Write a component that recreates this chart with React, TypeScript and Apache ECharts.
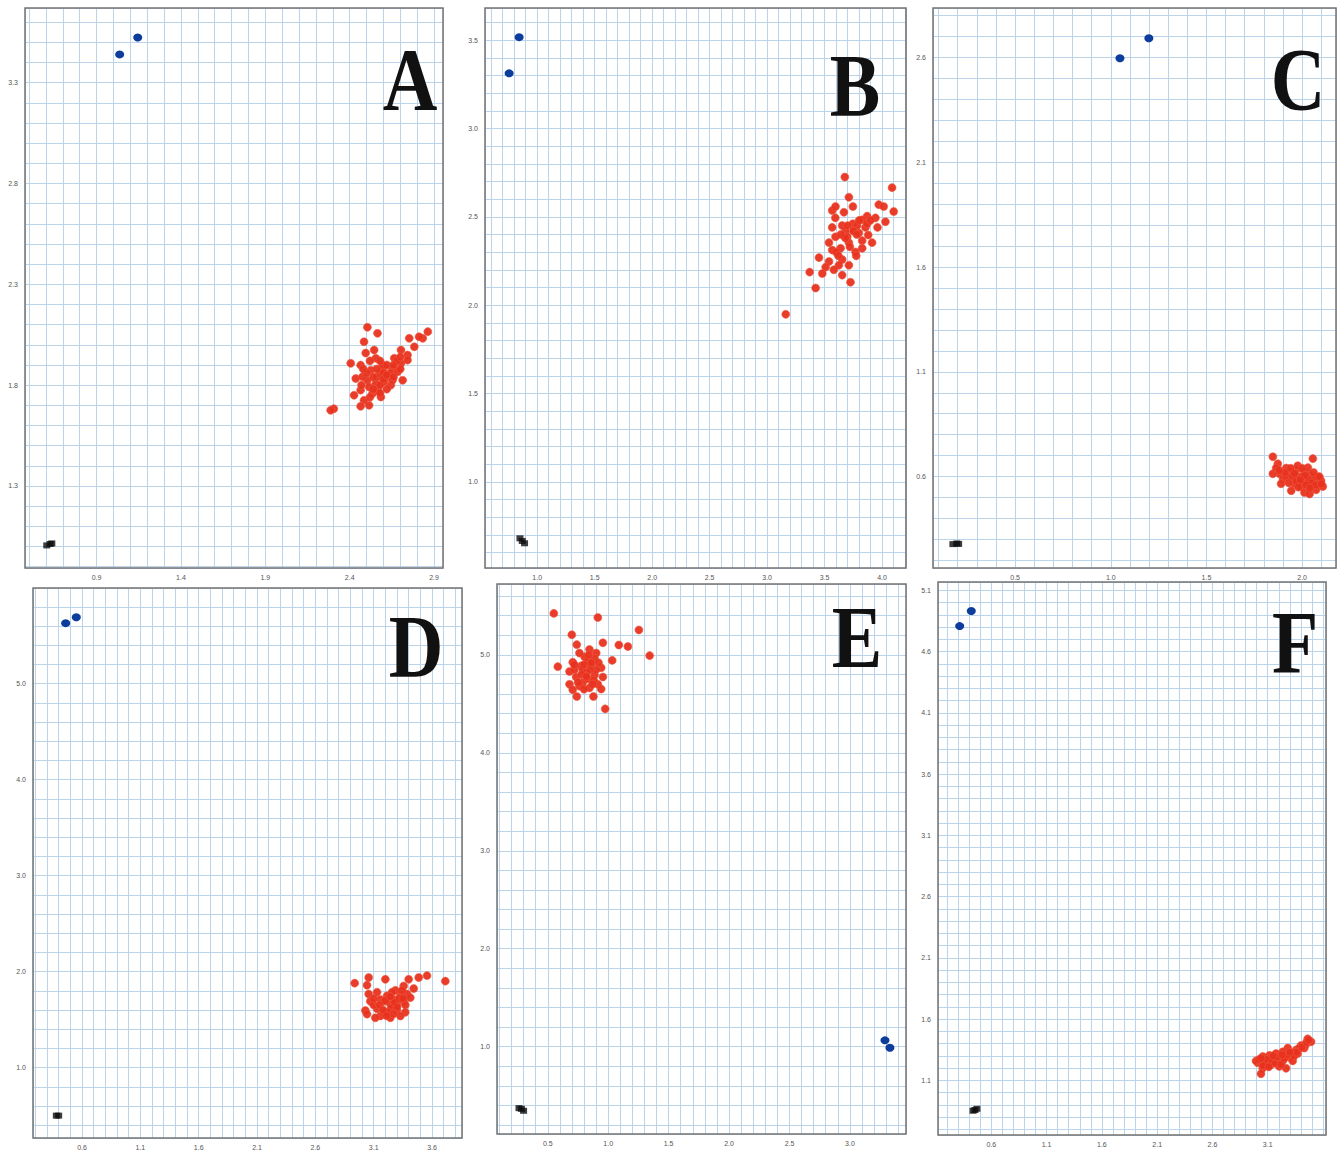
import React, { useEffect, useRef } from "react";
import * as echarts from "echarts";

// ---------- data ----------
const panelNames = ["A", "B", "C", "D", "E", "F"];

const aRed = [[2.505,2.087],[2.565,2.057],[2.863,2.065],[2.833,2.032],[2.753,2.032],[2.485,2.015],[2.495,1.959],[2.704,1.974],[2.743,1.949],[2.664,1.933],[2.555,1.933],[2.406,1.908],[2.465,1.899],[2.604,1.891],[2.654,1.883],[2.704,1.908],[2.743,1.924],[2.525,1.874],[2.585,1.866],[2.624,1.841],[2.436,1.833],[2.505,1.824],[2.555,1.808],[2.644,1.800],[2.465,1.775],[2.426,1.750],[2.535,1.758],[2.585,1.741],[2.485,1.725],[2.515,1.700],[2.465,1.695],[2.306,1.683],[2.287,1.675],[2.565,1.775],[2.604,1.816],[2.684,1.866],[2.565,1.841],[2.515,1.791],[2.476,1.841],[2.783,1.990],[2.714,1.824],[2.654,1.824],[2.595,1.899],[2.545,1.974],[2.811,2.040],[2.60,1.86],[2.62,1.90],[2.68,1.92],[2.64,1.86],[2.58,1.80],[2.54,1.84],[2.70,1.94],[2.47,1.80],[2.52,1.92],[2.62,1.78],[2.56,1.88],[2.60,1.83],[2.66,1.90],[2.50,1.86],[2.58,1.92],[2.62,1.85],[2.54,1.78],[2.52,1.74],[2.70,1.88],[2.48,1.88],[2.58,1.76],[2.66,1.84]];
const aBlue = [[1.037,3.44],[1.144,3.524]];
const aBlack = [[0.605,1.005],[0.625,1.012],[0.635,1.015]];

const bRed = [[3.676,2.725],[4.087,2.665],[3.711,2.611],[3.746,2.558],[3.566,2.536],[3.668,2.526],[3.971,2.569],[4.014,2.558],[4.101,2.530],[3.870,2.504],[3.942,2.494],[3.827,2.483],[4.029,2.472],[3.566,2.440],[3.746,2.461],[3.682,2.419],[3.798,2.408],[3.595,2.387],[3.879,2.397],[3.711,2.354],[3.827,2.365],[3.913,2.354],[3.639,2.322],[3.566,2.312],[3.769,2.301],[3.451,2.269],[3.653,2.258],[3.538,2.247],[3.775,2.279],[3.509,2.215],[3.624,2.226],[3.370,2.187],[3.480,2.179],[3.653,2.170],[3.725,2.130],[3.422,2.097],[3.162,1.948],[3.855,2.440],[3.783,2.451],[3.960,2.440],[3.593,2.494],[3.827,2.322],[3.697,2.387],[3.595,2.558],[3.653,2.451],[3.754,2.419],[3.711,2.226],[3.538,2.354],[3.870,2.461],[3.70,2.45],[3.75,2.42],[3.68,2.38],[3.80,2.48],[3.64,2.40],[3.72,2.33],[3.60,2.30],[3.78,2.40],[3.62,2.28],[3.58,2.20],[3.90,2.48]];
const bBlue = [[0.756,3.312],[0.843,3.517]];
const bBlack = [[0.85,0.68],[0.87,0.665],[0.89,0.652]];

const cRed = [[1.847,0.695],[2.056,0.686],[1.873,0.661],[1.917,0.641],[1.969,0.632],[2.012,0.623],[1.882,0.614],[1.847,0.614],[1.943,0.602],[2.039,0.609],[2.082,0.598],[1.987,0.598],[1.900,0.589],[2.021,0.580],[2.091,0.571],[1.960,0.566],[2.047,0.557],[1.995,0.553],[1.943,0.533],[2.012,0.524],[2.073,0.537],[2.099,0.580],[1.890,0.566],[1.917,0.602],[1.977,0.652],[2.030,0.643],[1.864,0.641],[1.987,0.571],[2.056,0.589],[1.951,0.623],[2.108,0.553],[2.039,0.517],[1.95,0.60],[1.97,0.58],[2.00,0.60],[2.03,0.59],[2.05,0.57],[2.07,0.56],[2.02,0.56],[1.98,0.55],[1.93,0.57],[1.91,0.62],[1.94,0.64],[2.00,0.64],[2.06,0.62],[2.09,0.60],[1.88,0.63],[1.96,0.615],[2.015,0.605],[2.04,0.545],[2.10,0.565],[1.99,0.585]];
const cBlue = [[1.048,2.596],[1.199,2.692]];
const cBlack = [[0.175,0.278],[0.195,0.281],[0.205,0.279]];

const dRed = [[3.057,1.939],[3.200,1.920],[3.400,1.920],[3.486,1.939],[3.557,1.958],[3.714,1.901],[2.937,1.880],[3.043,1.859],[3.357,1.851],[3.443,1.824],[3.286,1.805],[3.129,1.786],[3.057,1.767],[3.214,1.748],[3.329,1.748],[3.386,1.767],[3.157,1.710],[3.271,1.710],[3.071,1.691],[3.357,1.691],[3.243,1.660],[3.029,1.595],[3.129,1.614],[3.200,1.576],[3.300,1.595],[3.371,1.576],[3.157,1.538],[3.243,1.519],[3.329,1.538],[3.100,1.653],[3.300,1.653],[3.414,1.729],[3.257,1.786],[3.343,1.805],[3.186,1.691],[3.114,1.519],[3.043,1.557],[3.371,1.653],[3.15,1.65],[3.20,1.70],[3.25,1.62],[3.28,1.68],[3.32,1.72],[3.22,1.58],[3.18,1.60],[3.30,1.63],[3.35,1.72],[3.24,1.74],[3.10,1.72],[3.27,1.56],[3.21,1.54]];
const dBlue = [[0.46,5.63],[0.551,5.691]];
const dBlack = [[0.38,0.50],[0.40,0.50]];

const eRed = [[0.550,5.424],[0.914,5.382],[1.254,5.255],[0.699,5.206],[0.740,5.105],[0.956,5.124],[1.088,5.101],[1.163,5.086],[1.343,4.993],[0.845,5.056],[0.901,5.019],[0.804,4.981],[1.033,4.944],[0.583,4.880],[0.707,4.925],[0.776,4.888],[0.859,4.899],[0.942,4.869],[0.680,4.831],[0.818,4.813],[0.735,4.775],[0.887,4.794],[0.956,4.775],[0.680,4.700],[0.790,4.719],[0.914,4.700],[0.707,4.644],[0.845,4.663],[0.942,4.651],[0.740,4.576],[0.878,4.576],[0.975,4.449],[0.762,5.019],[0.831,4.944],[0.887,4.963],[0.790,4.850],[0.721,4.850],[0.901,4.850],[0.831,4.756],[0.762,4.681],[0.80,4.90],[0.85,4.85],[0.78,4.80],[0.86,4.92],[0.82,4.78],[0.75,4.72],[0.88,4.74],[0.84,5.00],[0.72,4.90],[0.92,4.92],[0.80,4.65],[0.87,4.70]];
const eBlue = [[3.290,1.064],[3.331,0.989]];
const eBlack = [[0.262,0.372],[0.282,0.365],[0.30,0.345]];

const fRed = [[3.461,1.439],[3.492,1.415],[3.401,1.385],[3.356,1.349],[3.431,1.364],[3.281,1.364],[3.236,1.334],[3.311,1.313],[3.175,1.319],[3.115,1.304],[3.055,1.295],[3.009,1.244],[3.084,1.259],[3.160,1.274],[3.236,1.259],[3.266,1.199],[3.205,1.214],[3.130,1.229],[3.055,1.199],[3.039,1.154],[3.296,1.289],[3.371,1.319],[3.190,1.259],[3.100,1.229],[3.326,1.259],[2.994,1.259],[3.386,1.364],[3.446,1.394],[3.205,1.289],[3.130,1.289],[3.02,1.27],[3.07,1.24],[3.09,1.27],[3.14,1.25],[3.17,1.24],[3.22,1.23],[3.25,1.28],[3.28,1.31],[3.34,1.30],[3.36,1.33],[3.41,1.37],[3.45,1.41],[3.47,1.43],[3.06,1.22],[3.11,1.21],[3.18,1.29],[3.30,1.33],[3.23,1.31],[3.15,1.30],[3.04,1.28]];
const fBlue = [[0.314,4.809],[0.419,4.932]];
const fBlack = [[0.435,0.852],[0.452,0.858],[0.47,0.868]];

// axis ranges [min, max]
const xRanges = [[0.476,2.953],[0.546,4.208],[0.071,2.177],[0.18,3.857],[0.08,3.464],[0.118,3.627]];
const yRanges = [[0.893,3.670],[0.512,3.682],[0.164,2.836],[0.267,5.996],[0.108,5.724],[0.654,5.169]];
// grid line step per axis
const xSteps = [0.1,0.1,0.1,0.1,0.1,0.1];
const ySteps = [0.1,0.1,0.1,0.2,0.2,0.1];
// tick labels
const xTickLabels = [
  [0.9,1.4,1.9,2.4,2.9],
  [1.0,1.5,2.0,2.5,3.0,3.5,4.0],
  [0.5,1.0,1.5,2.0],
  [0.6,1.1,1.6,2.1,2.6,3.1,3.6],
  [0.5,1.0,1.5,2.0,2.5,3.0],
  [0.6,1.1,1.6,2.1,2.6,3.1],
];
const yTickLabels = [
  [1.3,1.8,2.3,2.8,3.3],
  [1.0,1.5,2.0,2.5,3.0,3.5],
  [0.6,1.1,1.6,2.1,2.6],
  [1.0,2.0,3.0,4.0,5.0],
  [1.0,2.0,3.0,4.0,5.0],
  [1.1,1.6,2.1,2.6,3.1,3.6,4.1,4.6,5.1],
];

const redSets = [aRed, bRed, cRed, dRed, eRed, fRed];
const blueSets = [aBlue, bBlue, cBlue, dBlue, eBlue, fBlue];
const blackSets = [aBlack, bBlack, cBlack, dBlack, eBlack, fBlack];

// ---------- layout ----------
const boxes = [
  [25, 8, 418, 560],
  [485, 8, 421, 560],
  [933, 8, 403, 560],
  [33, 588, 429, 550],
  [497, 584, 409, 550],
  [938, 582, 388, 553],
];
const letterPos = [
  [410, 80],
  [855, 86],
  [1298, 80],
  [416, 647],
  [857, 638],
  [1295, 643],
];

const labelFormatter = (labels: number[]) => (v: number) => {
  const hit = labels.find((l) => Math.abs(l - v) < 1e-6);
  return hit === undefined ? "" : hit.toFixed(1);
};

export default function App() {
  const ref = useRef<HTMLDivElement>(null);
  useEffect(() => {
    document.body.style.margin = "0";
    if (!ref.current) return;
    const chart = echarts.init(ref.current, undefined, { renderer: "svg" });

    const grids: any[] = [];
    const xAxes: any[] = [];
    const yAxes: any[] = [];
    const series: any[] = [];
    const graphics: any[] = [];

    panelNames.forEach((name, i) => {
      const [l, t, w, h] = boxes[i];
      grids.push({ left: l, top: t, width: w, height: h, show: true, backgroundColor: "#ffffff", borderWidth: 0 });
      const common = {
        gridIndex: i,
        type: "value",
        axisLine: { show: false },
        axisTick: { show: false },
        splitLine: { show: true, lineStyle: { color: "#bcd4ea", width: 1 } },
      };
      xAxes.push({
        ...common,
        min: xRanges[i][0],
        max: xRanges[i][1],
        minInterval: xSteps[i],
        maxInterval: xSteps[i],
        splitNumber: 60,
        axisLabel: {
          formatter: labelFormatter(xTickLabels[i]),
          fontSize: 7,
          color: "#555",
          fontFamily: "Liberation Sans",
          margin: 6,
          showMinLabel: true,
          showMaxLabel: true,
        },
      });
      yAxes.push({
        ...common,
        min: yRanges[i][0],
        max: yRanges[i][1],
        minInterval: ySteps[i],
        maxInterval: ySteps[i],
        splitNumber: 60,
        axisLabel: {
          formatter: labelFormatter(yTickLabels[i]),
          fontSize: 7,
          color: "#555",
          fontFamily: "Liberation Sans",
          margin: 7,
          showMinLabel: true,
          showMaxLabel: true,
        },
      });
      series.push({
        type: "scatter",
        name: name + "-red",
        xAxisIndex: i,
        yAxisIndex: i,
        data: redSets[i],
        symbol: "circle",
        symbolSize: 8,
        itemStyle: { color: "#e8321f", borderColor: "#ee5a40", borderWidth: 0.6, opacity: 0.95 },
        z: 3,
      });
      series.push({
        type: "scatter",
        name: name + "-blue",
        xAxisIndex: i,
        yAxisIndex: i,
        data: blueSets[i],
        symbol: "circle",
        symbolSize: [9, 8],
        itemStyle: { color: "#0c3c9c", opacity: 1 },
        z: 3,
      });
      series.push({
        type: "scatter",
        name: name + "-black",
        xAxisIndex: i,
        yAxisIndex: i,
        data: blackSets[i],
        symbol: "rect",
        symbolSize: [7, 6],
        itemStyle: { color: "#0d0d0d" },
        z: 3,
      });
      graphics.push({
        type: "rect",
        shape: { x: l, y: t, width: w, height: h },
        style: { fill: "none", stroke: "#737373", lineWidth: 1.5 },
        z: 50,
        silent: true,
      });
      graphics.push({
        type: "text",
        x: letterPos[i][0],
        y: letterPos[i][1],
        scaleX: 0.86,
        z: 60,
        style: {
          text: name,
          fontFamily: "Liberation Serif",
          fontWeight: "bold",
          fontSize: 88,
          fill: "#111111",
          textAlign: "center",
          textVerticalAlign: "middle",
        },
      });
    });

    chart.setOption({
      animation: false,
      backgroundColor: "#ffffff",
      grid: grids,
      xAxis: xAxes,
      yAxis: yAxes,
      series,
      graphic: graphics,
    });
    return () => chart.dispose();
  }, []);
  return <div ref={ref} style={{ width: 1339, height: 1155 }} />;
}
